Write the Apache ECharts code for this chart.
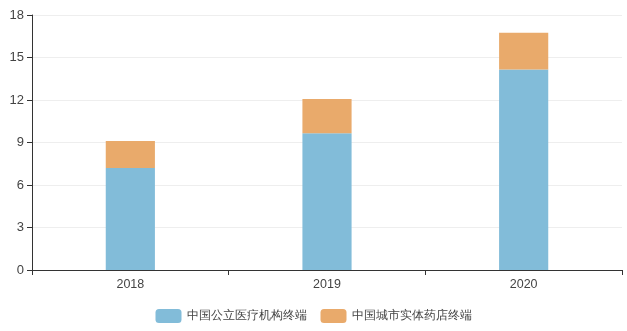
<!DOCTYPE html>
<html><head><meta charset="utf-8">
<script src="https://cdn.jsdelivr.net/npm/echarts@6/dist/echarts.min.js"></script>
<style>html,body{margin:0;padding:0;background:#fff}#c{width:627px;height:331px}</style>
</head><body><div id="c"></div>
<script>
const categories = ['2018', '2019', '2020'];
const publicMedical = [7.2, 9.65, 14.15];
const retailPharmacy = [1.9, 2.42, 2.6];
const seriesNames = ['中国公立医疗机构终端', '中国城市实体药店终端'];

const chart = echarts.init(document.getElementById('c'));
chart.setOption({
  animation: false,
  grid: { left: 32, right: 5, top: 15, bottom: 61, containLabel: false },
  legend: {
    bottom: 3, left: 'center', itemWidth: 26, itemHeight: 14, itemGap: 14,
    textStyle: { color: '#444', fontSize: 12 },
    data: seriesNames
  },
  xAxis: {
    type: 'category', data: categories,
    axisLine: { lineStyle: { color: '#333' } },
    axisTick: { show: true, lineStyle: { color: '#333' } },
    axisLabel: { color: '#444', fontSize: 12.5 }
  },
  yAxis: {
    type: 'value', min: 0, max: 18, interval: 3,
    axisLine: { show: true, lineStyle: { color: '#333' } },
    axisTick: { show: true, lineStyle: { color: '#333' } },
    axisLabel: { color: '#444', fontSize: 13 },
    splitLine: { lineStyle: { color: '#eee' } }
  },
  series: [
    { name: seriesNames[0], type: 'bar', stack: 't', data: publicMedical, barWidth: '25%',
      itemStyle: { color: '#82bcd9' } },
    { name: seriesNames[1], type: 'bar', stack: 't', data: retailPharmacy, barWidth: '25%',
      itemStyle: { color: '#e9aa6b' } }
  ]
});
</script></body></html>
